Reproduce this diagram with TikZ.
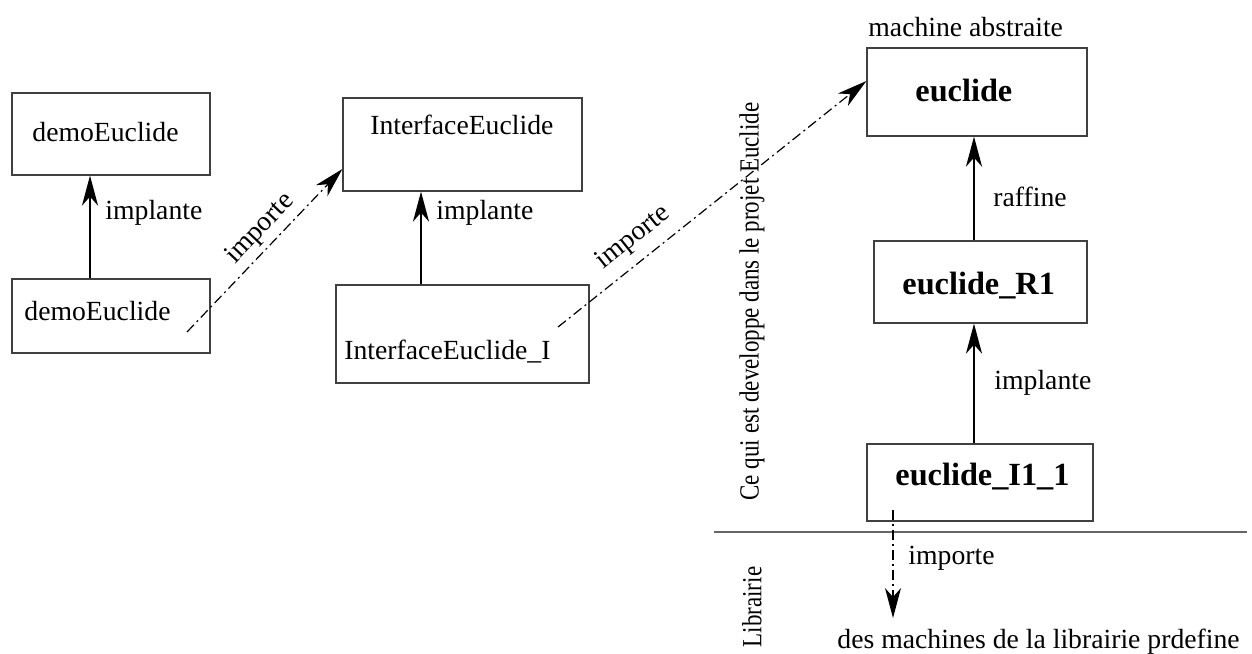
\documentclass[tikz,border=0pt]{standalone}
\usepackage{fontspec}
\setmainfont{Liberation Serif}
\usepackage{graphicx}
\usepackage{tikz}
\usetikzlibrary{calc}
\usetikzlibrary{arrows.meta}
\usetikzlibrary{positioning}

\begin{document}
\begin{tikzpicture}[x = 0.5pt, y = -0.5pt,
  every node/.style = {inner sep = 0pt, font = \fontsize{13.85}{16}\selectfont},
  box/.style = {rectangle, draw = black!75, line width = 0.6pt},
  boxtext/.style = {anchor = base west},
  boldtext/.style = {anchor = base west, font = \fontsize{16.15}{19}\selectfont\bfseries},
  lbl/.style = {anchor = west},
  sidetext/.style = {rotate = 90},
  impl/.style = {-{Stealth[length = 15pt, width = 8pt, inset = 4.5pt]}, line width = 1.3pt},
  imp/.style = {-{Stealth[length = 15pt, width = 8pt, inset = 4.5pt]}, line width = 0.6pt,
    dash pattern = on 5pt off 2pt on 1pt off 2pt}]
 \useasboundingbox (0, 0) rectangle (1252, 653);
 \node [box, minimum width = 99pt, minimum height = 41pt] (demo) at (111, 134) {};
 \node [box, minimum width = 99pt, minimum height = 37pt] (demoI) at (111, 316) {};
 \node [box, minimum width = 119.5pt, minimum height = 46.5pt] (intf) at (462.5, 144.5) {};
 \node [box, minimum width = 126.5pt, minimum height = 49pt] (intfI) at (462.5, 334) {};
 \node [box, minimum width = 110pt, minimum height = 44pt] (euc) at (977, 92) {};
 \node [box, minimum width = 106.5pt, minimum height = 41pt] (eucR) at (980.5, 282) {};
 \node [box, minimum width = 113pt, minimum height = 38.5pt] (eucI) at (980, 482.5) {};
 \node [boxtext] (demot) at (32, 141) {demoEuclide};
 \node [boxtext] (demoIt) at (24, 320) {demoEuclide};
 \node [boxtext] (intft) at (370, 134) {InterfaceEuclide};
 \node [boxtext] (intfIt) at (344, 359) {InterfaceEuclide\_I};
 \node [boldtext] (euct) at (915, 101) {euclide};
 \node [boldtext] (eucRt) at (902, 294) {euclide\_R1};
 \node [boldtext] (eucIt) at (895, 485) {euclide\_I1\_1};
 \node [lbl] (abstr) at (868, 27) {machine abstraite};
 \node [lbl] (impl1) at (105, 213) {implante};
 \node [lbl] (impl2) at (436, 213) {implante};
 \node [lbl] (raff) at (993, 197) {raffine};
 \node [lbl] (impl3) at (994, 383) {implante};
 \node [lbl] (imp3) at (908, 558) {importe};
 \node [sidetext] (projet) at (752, 301.5) {\scalebox{0.83}[1]{Ce qui est developpe dans le projet Euclide}};
 \node [sidetext] (libr) at (752, 607) {\scalebox{0.83}[1]{Librairie}};
 \node [boxtext] (machs) at (837, 648) {des machines de la librairie prdefine};
 \coordinate (libtip) at (893, 618);
 \draw [line width = 0.6pt, draw = black!60] (714, 532) -- (1247, 532);
 \draw [impl] ([xshift = -10.5pt]demoI.north) -- ([xshift = -10.5pt]demo.south);
 \draw [impl] ([xshift = -20.75pt]intfI.north) -- ([xshift = -20.75pt]intf.south);
 \draw [impl] ([xshift = -3.25pt]eucR.north) -- ([xshift = -3.25pt]eucR.north |- euc.south);
 \draw [impl] ([xshift = -3pt]eucI.north) -- ([xshift = -3pt]eucI.north |- eucR.south);
 \draw [imp] ([shift = {(38pt, -8pt)}]demoI.center) -- ([yshift = -12.25pt]intf.west)
   node [pos = 0.556, above = 2.7pt, sloped] (imp1) {importe};
 \draw [imp] ([shift = {(47.75pt, 3.5pt)}]intfI.center) -- ([yshift = 5.5pt]euc.west)
   node [pos = 0.29, above = 5pt, sloped] (imp2) {importe};
 \draw [imp] ([shift = {(-43.5pt, -13.75pt)}]eucI.center) -- (libtip);
\end{tikzpicture}
\end{document}
